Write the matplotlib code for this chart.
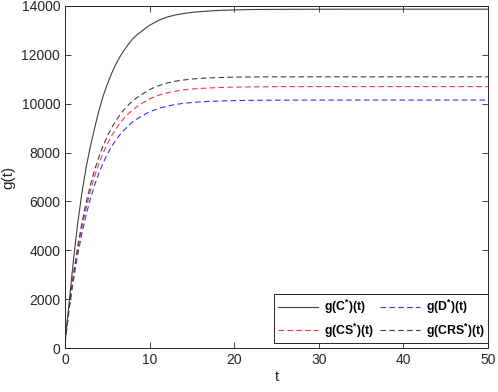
import matplotlib
matplotlib.use('Agg')
import matplotlib.pyplot as plt

plt.rcParams['font.family'] = ['Liberation Sans', 'DejaVu Sans']
plt.rcParams['mathtext.fontset'] = 'custom'
plt.rcParams['mathtext.rm'] = 'Liberation Sans'
plt.rcParams['mathtext.bf'] = 'Liberation Sans:bold'

# values
t = [0, 0.5, 1, 1.5, 2, 2.5, 3, 3.5, 4, 4.5, 5, 5.5, 6, 6.5, 7, 7.5, 8, 8.5, 9, 9.5,
     10, 11, 12, 13, 14, 15, 16, 17, 18, 19, 20, 22, 25, 30, 35, 40, 45, 50]
g_C = [200, 1900, 3600, 5100, 6350, 7400, 8250, 9000, 9700, 10300, 10800, 11230,
       11610, 11925, 12195, 12440, 12650, 12820, 12951, 13090,
       13210, 13400, 13540, 13630, 13690, 13740, 13770, 13795, 13815, 13830,
       13840, 13855, 13862, 13868, 13870, 13870, 13870, 13870]
g_D = [200, 1586, 2779, 3806, 4689, 5450, 6104, 6668, 7153, 7571, 7930, 8240,
       8505, 8734, 8931, 9101, 9248, 9373, 9481, 9575,
       9670, 9800, 9895, 9965, 10015, 10050, 10075, 10095, 10108, 10120,
       10128, 10138, 10144, 10150, 10150, 10150, 10150, 10150]
g_CS = [200, 1663, 2922, 4005, 4938, 5740, 6431, 7026, 7537, 7978, 8357, 8684,
        8964, 9206, 9414, 9593, 9748, 9880, 9994, 10093,
        10200, 10340, 10440, 10510, 10565, 10600, 10625, 10645, 10660, 10672,
        10680, 10690, 10697, 10700, 10700, 10700, 10700, 10700]
g_CRS = [200, 1718, 3025, 4150, 5118, 5951, 6668, 7286, 7817, 8275, 8668, 9007,
         9298, 9549, 9765, 9951, 10111, 10249, 10368, 10470,
         10580, 10730, 10840, 10920, 10970, 11010, 11035, 11055, 11070, 11080,
         11088, 11097, 11100, 11100, 11100, 11100, 11100, 11100]

fig = plt.figure(figsize=(4.98, 3.92), dpi=100)
ax = fig.add_axes([0.1305, 0.1122, 0.8495, 0.8725])

dash = (0, (5, 3))
lC, = ax.plot(t, g_C, color='#404040', lw=0.8)
lD, = ax.plot(t, g_D, color='#3333ff', lw=0.8, ls=dash)
lCS, = ax.plot(t, g_CS, color='#ff3333', lw=0.8, ls=dash)
lCRS, = ax.plot(t, g_CRS, color='#404040', lw=0.8, ls=dash)

ax.set_xlim(0, 50)
ax.set_ylim(0, 14000)
ax.set_xticks([0, 10, 20, 30, 40, 50])
ax.set_yticks(range(0, 14001, 2000))
ax.tick_params(direction='in', top=True, right=True, labelsize=10, colors='#262626', length=4, width=0.6)
for s in ax.spines.values():
    s.set_color('#262626')
    s.set_linewidth(0.7)

ax.set_xlabel('t', fontsize=11, color='#262626', labelpad=2)
ax.set_ylabel('g(t)', fontsize=11, color='#262626', labelpad=4)

# column-major fill -> rows: C, D / CS, CRS
handles = [lC, lCS, lD, lCRS]
labels = ['g(C$^{\\mathbf{*}}$)(t)', 'g(CS$^{\\mathbf{*}}$)(t)',
          'g(D$^{\\mathbf{*}}$)(t)', 'g(CRS$^{\\mathbf{*}}$)(t)']
leg = ax.legend(handles, labels, loc='lower right', bbox_to_anchor=(1.0, 0.014), ncol=2,
                fancybox=False, edgecolor='#262626', framealpha=1, borderaxespad=0,
                prop={'weight': 'bold', 'size': 8.8}, handlelength=3.3,
                columnspacing=0.5, handletextpad=0.45, labelspacing=0.45,
                borderpad=0.3)
leg.get_frame().set_linewidth(0.7)

fig.savefig('out.png', dpi=100)
